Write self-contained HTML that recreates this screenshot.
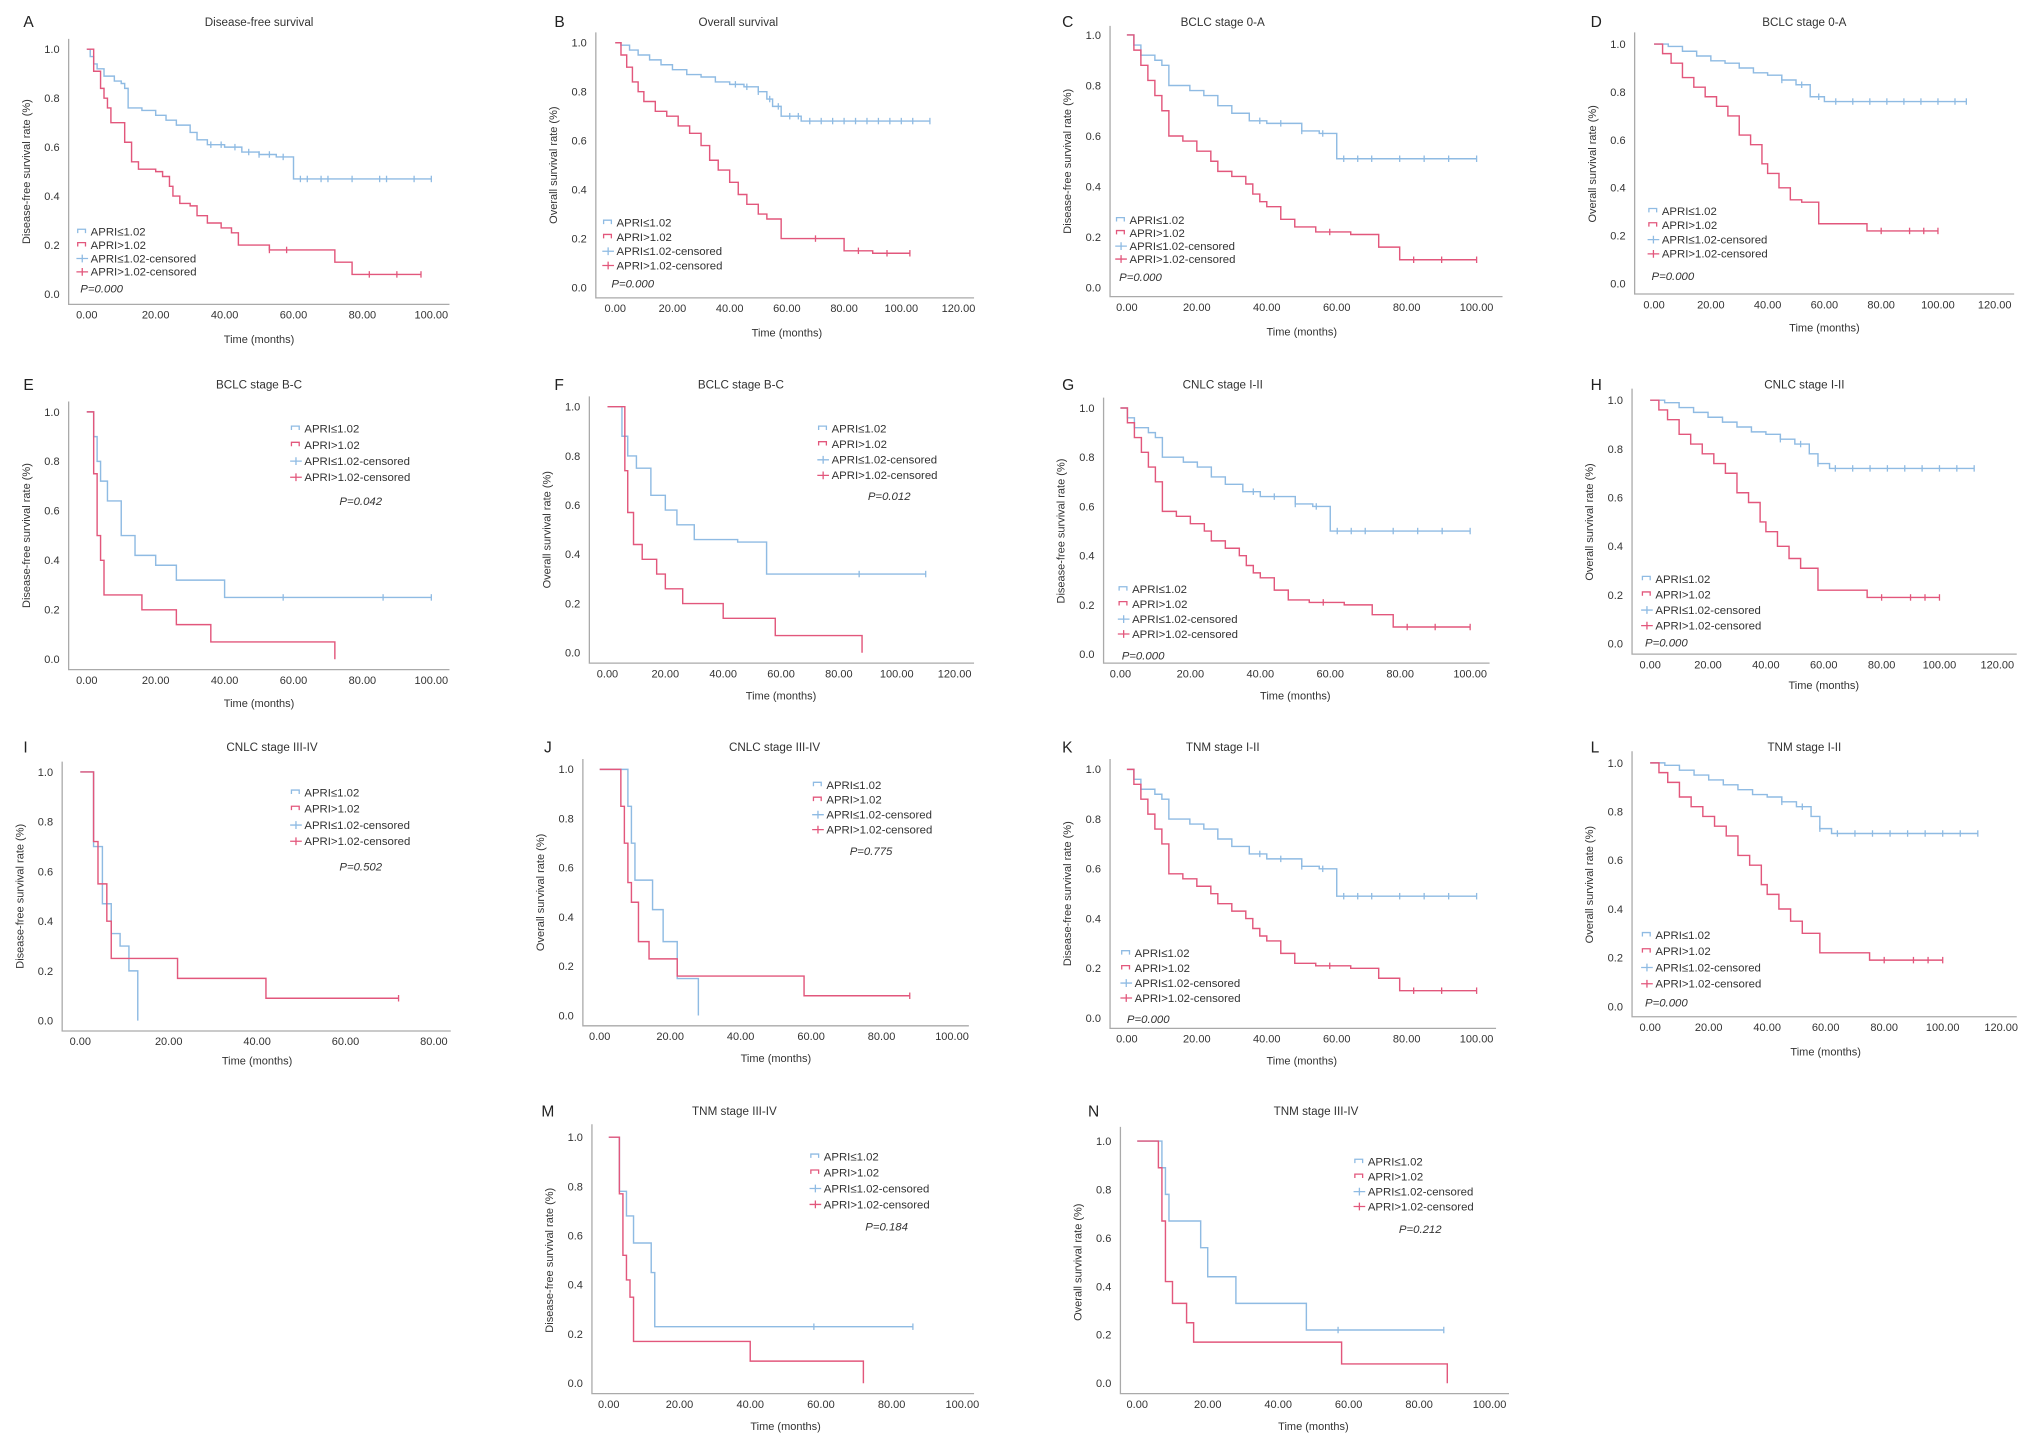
<!DOCTYPE html>
<html><head><meta charset="utf-8">
<style>
html,body{margin:0;padding:0;background:#fff;}
svg{display:block;font-family:"Liberation Sans",Arial,sans-serif;}
</style></head>
<body>
<svg id="fig" xmlns="http://www.w3.org/2000/svg" width="2031" height="1450" viewBox="0 0 1568 1119.5" preserveAspectRatio="none"></svg>
<script>
// ---- data: step times / survival after the drop / censored times ----
const aBlueT=[0,1,2,3,5,8,10,11,12,16,20,23,26,30,32,35,40,45,50,55,60];
const aBlueS=[1,.97,.94,.92,.89,.87,.86,.84,.76,.75,.73,.71,.69,.66,.63,.61,.60,.58,.57,.56,.47];
const aBlueC=[36,39,43,47,50,53,57,62,64,68,70,77,85,87,95,100];
const aRedT=[0,2,4,5,6,7,11,13,15,20,22,24,25,27,30,32,35,39,42,44,53,72,77];
const aRedS=[1,.91,.84,.80,.76,.70,.62,.54,.51,.50,.48,.44,.40,.37,.36,.32,.29,.27,.25,.20,.18,.13,.08];
const aRedC=[53,58,82,90,97];

const bBlueT=[0,2,5,8,12,16,20,25,30,35,40,45,50,53,55,58,65];
const bBlueS=[1,.99,.97,.95,.93,.91,.89,.87,.86,.84,.83,.82,.80,.77,.74,.70,.68];
const bBlueC=[42,46,50,54,57,61,64,68,72,76,80,84,88,92,96,100,104,110];
const bRedT=[0,2,4,6,8,10,14,18,22,26,30,33,36,40,43,46,50,53,58,80,90];
const bRedS=[1,.95,.90,.84,.80,.76,.72,.70,.66,.63,.58,.52,.48,.43,.38,.34,.30,.28,.20,.15,.14];
const bRedC=[70,85,95,103];

const cBlueT=[0,2,4,8,10,12,18,22,26,30,35,40,50,55,60];
const cBlueS=[1,.96,.92,.90,.88,.80,.78,.76,.72,.69,.66,.65,.62,.61,.51];
const cBlueC=[38,44,50,56,62,66,70,78,85,92,100];
const cRedT=[0,2,4,6,8,10,12,16,20,24,26,30,34,36,38,40,44,48,54,64,72,78];
const cRedS=[1,.94,.88,.82,.76,.70,.60,.58,.54,.50,.46,.44,.41,.37,.34,.32,.27,.24,.22,.21,.16,.11];
const cRedC=[58,82,90,100];

const dBlueT=[0,5,10,15,20,25,30,35,40,45,50,55,60];
const dBlueS=[1,.99,.97,.95,.93,.92,.90,.88,.87,.85,.83,.78,.76];
const dBlueC=[45,52,58,64,70,76,82,88,94,100,106,110];
const dRedT=[0,3,6,10,14,18,22,26,30,34,38,40,44,48,52,58,75];
const dRedS=[1,.96,.92,.86,.82,.78,.74,.70,.62,.58,.50,.46,.40,.35,.34,.25,.22];
const dRedC=[80,90,95,100];

const eBlueT=[0,2,3,4,6,10,14,20,26,40];
const eBlueS=[1,.9,.8,.72,.64,.5,.42,.38,.32,.25];
const eBlueC=[57,86,100];
const eRedT=[0,2,3,4,5,16,26,36,72];
const eRedS=[1,.75,.5,.4,.26,.2,.14,.07,0];
const eRedC=[];

const fBlueT=[0,5,7,10,15,20,24,30,45,55];
const fBlueS=[1,.88,.8,.75,.64,.58,.52,.46,.45,.32];
const fBlueC=[87,110];
const fRedT=[0,6,7,9,12,17,20,26,40,58,88];
const fRedS=[1,.74,.57,.44,.38,.32,.26,.2,.14,.07,0];
const fRedC=[];

const gBlueT=[0,2,4,8,10,12,18,22,26,30,35,40,50,55,60];
const gBlueS=[1,.96,.92,.90,.88,.80,.78,.76,.72,.69,.66,.64,.61,.60,.50];
const gBlueC=[38,44,50,56,62,66,70,78,85,92,100];
const gRedT=[0,2,4,6,8,10,12,16,20,24,26,30,34,36,38,40,44,48,54,64,72,78];
const gRedS=[1,.94,.88,.82,.76,.70,.58,.56,.53,.50,.46,.43,.40,.36,.33,.31,.26,.22,.21,.20,.16,.11];
const gRedC=[58,82,90,100];

const hBlueT=[0,5,10,15,20,25,30,35,40,45,50,55,58,62];
const hBlueS=[1,.99,.97,.95,.93,.91,.89,.87,.86,.84,.82,.78,.74,.72];
const hBlueC=[45,52,58,64,70,76,82,88,94,100,106,112];
const hRedT=[0,3,6,10,14,18,22,26,30,34,38,40,44,48,52,58,75];
const hRedS=[1,.96,.92,.86,.82,.78,.74,.70,.62,.58,.50,.46,.40,.35,.31,.22,.19];
const hRedC=[80,90,95,100];

const iBlueT=[0,3,5,7,9,11,13];
const iBlueS=[1,.7,.47,.35,.3,.2,0];
const iBlueC=[];
const iRedT=[0,3,4,6,7,22,42];
const iRedS=[1,.72,.55,.4,.25,.17,.09];
const iRedC=[72];

const jBlueT=[0,8,9,10,15,18,22,28];
const jBlueS=[1,.85,.7,.55,.43,.3,.15,0];
const jBlueC=[];
const jRedT=[0,6,7,8,9,11,14,22,58];
const jRedS=[1,.85,.7,.54,.46,.3,.23,.16,.08];
const jRedC=[88];

const kBlueT=[0,2,4,8,10,12,18,22,26,30,35,40,50,55,60];
const kBlueS=[1,.96,.92,.90,.88,.80,.78,.76,.72,.69,.66,.64,.61,.60,.49];
const kBlueC=[38,44,50,56,62,66,70,78,85,92,100];
const kRedT=[0,2,4,6,8,10,12,16,20,24,26,30,34,36,38,40,44,48,54,64,72,78];
const kRedS=[1,.94,.88,.82,.76,.70,.58,.56,.53,.50,.46,.43,.40,.36,.33,.31,.26,.22,.21,.20,.16,.11];
const kRedC=[58,82,90,100];

const lBlueT=[0,5,10,15,20,25,30,35,40,45,50,55,58,62];
const lBlueS=[1,.99,.97,.95,.93,.91,.89,.87,.86,.84,.82,.78,.73,.71];
const lBlueC=[45,52,58,64,70,76,82,88,94,100,106,112];
const lRedT=[0,3,6,10,14,18,22,26,30,34,38,40,44,48,52,58,75];
const lRedS=[1,.96,.92,.86,.82,.78,.74,.70,.62,.58,.50,.46,.40,.35,.30,.22,.19];
const lRedC=[80,90,95,100];

const mBlueT=[0,3,5,7,12,13];
const mBlueS=[1,.78,.68,.57,.45,.23];
const mBlueC=[58,86];
const mRedT=[0,3,4,5,6,7,40,72];
const mRedS=[1,.77,.52,.42,.35,.17,.09,0];
const mRedC=[];

const nBlueT=[0,7,8,9,18,20,28,48];
const nBlueS=[1,.89,.78,.67,.56,.44,.33,.22];
const nBlueC=[57,87];
const nRedT=[0,6,7,8,10,14,16,58,88];
const nRedS=[1,.89,.67,.42,.33,.25,.17,.08,0];
const nRedC=[];

const yTicks=[0,0.2,0.4,0.6,0.8,1.0];
const DFS="Disease-free survival rate (%)", OS="Overall survival rate (%)";
const panels=[
 {id:"a",L:"A",lx:18,ly:17,title:"Disease-free survival",tx:200,ty:17,x0:67,x1:333,xmax:100,y1:38,y0:227,left:53,bottom:235,right:347,top:30,yl:DFS,xlY:262,legX:60,legY:179,legS:10.3,pX:62,pY:223,pv:"P=0.000",bT:aBlueT,bS:aBlueS,bC:aBlueC,rT:aRedT,rS:aRedS,rC:aRedC},
 {id:"b",L:"B",lx:428,ly:17,title:"Overall survival",tx:570,ty:17,x0:475,x1:740,xmax:120,y1:33,y0:222,left:460,bottom:230,right:752,top:25,yl:OS,xlY:257,legX:466,legY:172,legS:11,pX:472,pY:219,pv:"P=0.000",bT:bBlueT,bS:bBlueS,bC:bBlueC,rT:bRedT,rS:bRedS,rC:bRedC},
 {id:"c",L:"C",lx:820,ly:17,title:"BCLC stage 0-A",tx:944,ty:17,x0:870,x1:1140,xmax:100,y1:27,y0:222,left:857,bottom:229,right:1160,top:20,yl:DFS,xlY:256,legX:862,legY:170,legS:10,pX:864,pY:214,pv:"P=0.000",bT:cBlueT,bS:cBlueS,bC:cBlueC,rT:cRedT,rS:cRedS,rC:cRedC},
 {id:"d",L:"D",lx:1228,ly:17,title:"BCLC stage 0-A",tx:1393,ty:17,x0:1277,x1:1540,xmax:120,y1:34,y0:219,left:1262,bottom:227,right:1555,top:25,yl:OS,xlY:253,legX:1273,legY:163,legS:11,pX:1275,pY:213,pv:"P=0.000",bT:dBlueT,bS:dBlueS,bC:dBlueC,rT:dRedT,rS:dRedS,rC:dRedC},
 {id:"e",L:"E",lx:18,ly:297,title:"BCLC stage B-C",tx:200,ty:297,x0:67,x1:333,xmax:100,y1:318,y0:509,left:53,bottom:517,right:347,top:310,yl:DFS,xlY:543,legX:225,legY:331,legS:12.5,pX:262,pY:387,pv:"P=0.042",bT:eBlueT,bS:eBlueS,bC:eBlueC,rT:eRedT,rS:eRedS,rC:eRedC},
 {id:"f",L:"F",lx:428,ly:297,title:"BCLC stage B-C",tx:572,ty:297,x0:469,x1:737,xmax:120,y1:314,y0:504,left:455,bottom:512,right:752,top:306,yl:OS,xlY:537,legX:632,legY:331,legS:12,pX:670,pY:383,pv:"P=0.012",bT:fBlueT,bS:fBlueS,bC:fBlueC,rT:fRedT,rS:fRedS,rC:fRedC},
 {id:"g",L:"G",lx:820,ly:297,title:"CNLC stage I-II",tx:944,ty:297,x0:865,x1:1135,xmax:100,y1:315,y0:505,left:852,bottom:512,right:1150,top:307,yl:DFS,xlY:537,legX:864,legY:455,legS:11.5,pX:866,pY:506,pv:"P=0.000",bT:gBlueT,bS:gBlueS,bC:gBlueC,rT:gRedT,rS:gRedS,rC:gRedC},
 {id:"h",L:"H",lx:1228,ly:297,title:"CNLC stage I-II",tx:1393,ty:297,x0:1274,x1:1542,xmax:120,y1:309,y0:497,left:1260,bottom:505,right:1557,top:300,yl:OS,xlY:529,legX:1268,legY:447,legS:12,pX:1270,pY:496,pv:"P=0.000",bT:hBlueT,bS:hBlueS,bC:hBlueC,rT:hRedT,rS:hRedS,rC:hRedC},
 {id:"i",L:"I",lx:18,ly:577,title:"CNLC stage III-IV",tx:210,ty:577,x0:62,x1:335,xmax:80,y1:596,y0:788,left:48,bottom:796,right:348,top:588,yl:DFS,xlY:819,legX:225,legY:612,legS:12.5,pX:262,pY:669,pv:"P=0.502",bT:iBlueT,bS:iBlueS,bC:iBlueC,rT:iRedT,rS:iRedS,rC:iRedC},
 {id:"j",L:"J",lx:420,ly:577,title:"CNLC stage III-IV",tx:598,ty:577,x0:463,x1:735,xmax:100,y1:594,y0:784,left:450,bottom:792,right:748,top:586,yl:OS,xlY:817,legX:628,legY:606,legS:11.5,pX:656,pY:657,pv:"P=0.775",bT:jBlueT,bS:jBlueS,bC:jBlueC,rT:jRedT,rS:jRedS,rC:jRedC},
 {id:"k",L:"K",lx:820,ly:577,title:"TNM stage I-II",tx:944,ty:577,x0:870,x1:1140,xmax:100,y1:594,y0:786,left:857,bottom:794,right:1155,top:586,yl:DFS,xlY:819,legX:866,legY:736,legS:11.5,pX:870,pY:787,pv:"P=0.000",bT:kBlueT,bS:kBlueS,bC:kBlueC,rT:kRedT,rS:kRedS,rC:kRedC},
 {id:"l",L:"L",lx:1228,ly:577,title:"TNM stage I-II",tx:1393,ty:577,x0:1274,x1:1545,xmax:120,y1:589,y0:777,left:1260,bottom:785,right:1557,top:580,yl:OS,xlY:812,legX:1268,legY:722,legS:12.5,pX:1270,pY:774,pv:"P=0.000",bT:lBlueT,bS:lBlueS,bC:lBlueC,rT:lRedT,rS:lRedS,rC:lRedC},
 {id:"m",L:"M",lx:418,ly:858,title:"TNM stage III-IV",tx:567,ty:858,x0:470,x1:743,xmax:100,y1:878,y0:1068,left:457,bottom:1076,right:752,top:868,yl:DFS,xlY:1101,legX:626,legY:893,legS:12.3,pX:668,pY:947,pv:"P=0.184",bT:mBlueT,bS:mBlueS,bC:mBlueC,rT:mRedT,rS:mRedS,rC:mRedC},
 {id:"n",L:"N",lx:840,ly:858,title:"TNM stage III-IV",tx:1016,ty:858,x0:878,x1:1150,xmax:100,y1:881,y0:1068,left:865,bottom:1076,right:1165,top:870,yl:OS,xlY:1101,legX:1046,legY:897,legS:11.5,pX:1080,pY:949,pv:"P=0.212",bT:nBlueT,bS:nBlueS,bC:nBlueC,rT:nRedT,rS:nRedS,rC:nRedC}
];
const BLUE="#8fbbe3", RED="#e2577c", TXT="#333";
const NS="http://www.w3.org/2000/svg";
const svg=document.getElementById("fig");
function mk(tag,attrs,parent,text){const e=document.createElementNS(NS,tag);for(const k in attrs)e.setAttribute(k,attrs[k]);if(text!==undefined)e.textContent=text;parent.appendChild(e);return e;}
function survAt(T,S,t){let s=1;for(let i=0;i<T.length;i++){if(T[i]<=t)s=S[i];}return s;}

panels.forEach(p=>{
  const g=mk("g",{},svg);
  
  
  const X=t=>p.x0+(p.x1-p.x0)*t/p.xmax;
  const Y=v=>p.y0+(p.y1-p.y0)*v;
  const lt=mk("text",{x:p.lx,y:p.ly+4,"font-size":12,fill:"#222"},g,p.L);
  
  
  const tt=mk("text",{x:p.tx,y:p.ty+3,"font-size":9,fill:TXT,"text-anchor":"middle"},g,p.title);
  
  
  const ax=mk("path",{d:`M${p.left},${p.top}V${p.bottom}H${p.right}`,fill:"none",stroke:"#aaa","stroke-width":1},g);
  
  
  yTicks.forEach(v=>{
    const t=mk("text",{x:p.left-7,y:Y(v)+3,"font-size":8.5,fill:TXT,"text-anchor":"end"},g,v.toFixed(1));
    
    
  });
  for(let v=0;v<=p.xmax;v+=20){
    const t=mk("text",{x:X(v),y:p.bottom+11,"font-size":8.5,fill:TXT,"text-anchor":"middle"},g,v.toFixed(2));
    
    
  }
  const xl=mk("text",{x:(X(0)+X(p.xmax))/2,y:p.xlY+3,"font-size":8.5,fill:TXT,"text-anchor":"middle"},g,"Time (months)");
  
  
  const cy=(p.y0+p.y1)/2, yx=p.left-30;
  const yl=mk("text",{x:yx,y:cy,"font-size":8.5,fill:TXT,"text-anchor":"middle",transform:`rotate(-90 ${yx} ${cy})`},g,p.yl);
  
  
  [[p.bT,p.bS,p.bC,BLUE,"blue"],[p.rT,p.rS,p.rC,RED,"red"]].forEach(([T,S,C,col,nm])=>{
    const end=Math.max(T[T.length-1],C.length?C[C.length-1]:0);
    let d=`M${X(T[0])},${Y(S[0])}`;
    for(let i=1;i<T.length;i++){d+=`H${X(T[i])}V${Y(S[i])}`;}
    d+=`H${X(end)}`;
    const path=mk("path",{d:d,fill:"none",stroke:col,"stroke-width":1.1},g);
    
    
    C.forEach(t=>{
      const y=Y(survAt(T,S,t));
      const c=mk("path",{d:`M${X(t)},${y-2.5}V${y+2.5}`,stroke:col,"stroke-width":1},g);
      
      
    });
  });
  const labels=["APRI\u22641.02","APRI>1.02","APRI\u22641.02-censored","APRI>1.02-censored"];
  labels.forEach((lab,i)=>{
    const y=p.legY+i*p.legS, col=i%2==0?BLUE:RED, x=p.legX;
    const ico = i<2 ? mk("path",{d:`M${x},${y+1}V${y-2}H${x+6}V${y+1}`,fill:"none",stroke:col,"stroke-width":1},g)
                    : mk("path",{d:`M${x-1},${y}H${x+8}M${x+3.5},${y-3}V${y+3}`,fill:"none",stroke:col,"stroke-width":1},g);
    
    
    const t=mk("text",{x:x+10,y:y+3,"font-size":8.8,fill:TXT},g,lab);
    
    
  });
  const pt=mk("text",{x:p.pX,y:p.pY+3,"font-size":8.8,fill:TXT,"font-style":"italic"},g,p.pv);
  
  
});
</script>
</body></html>
